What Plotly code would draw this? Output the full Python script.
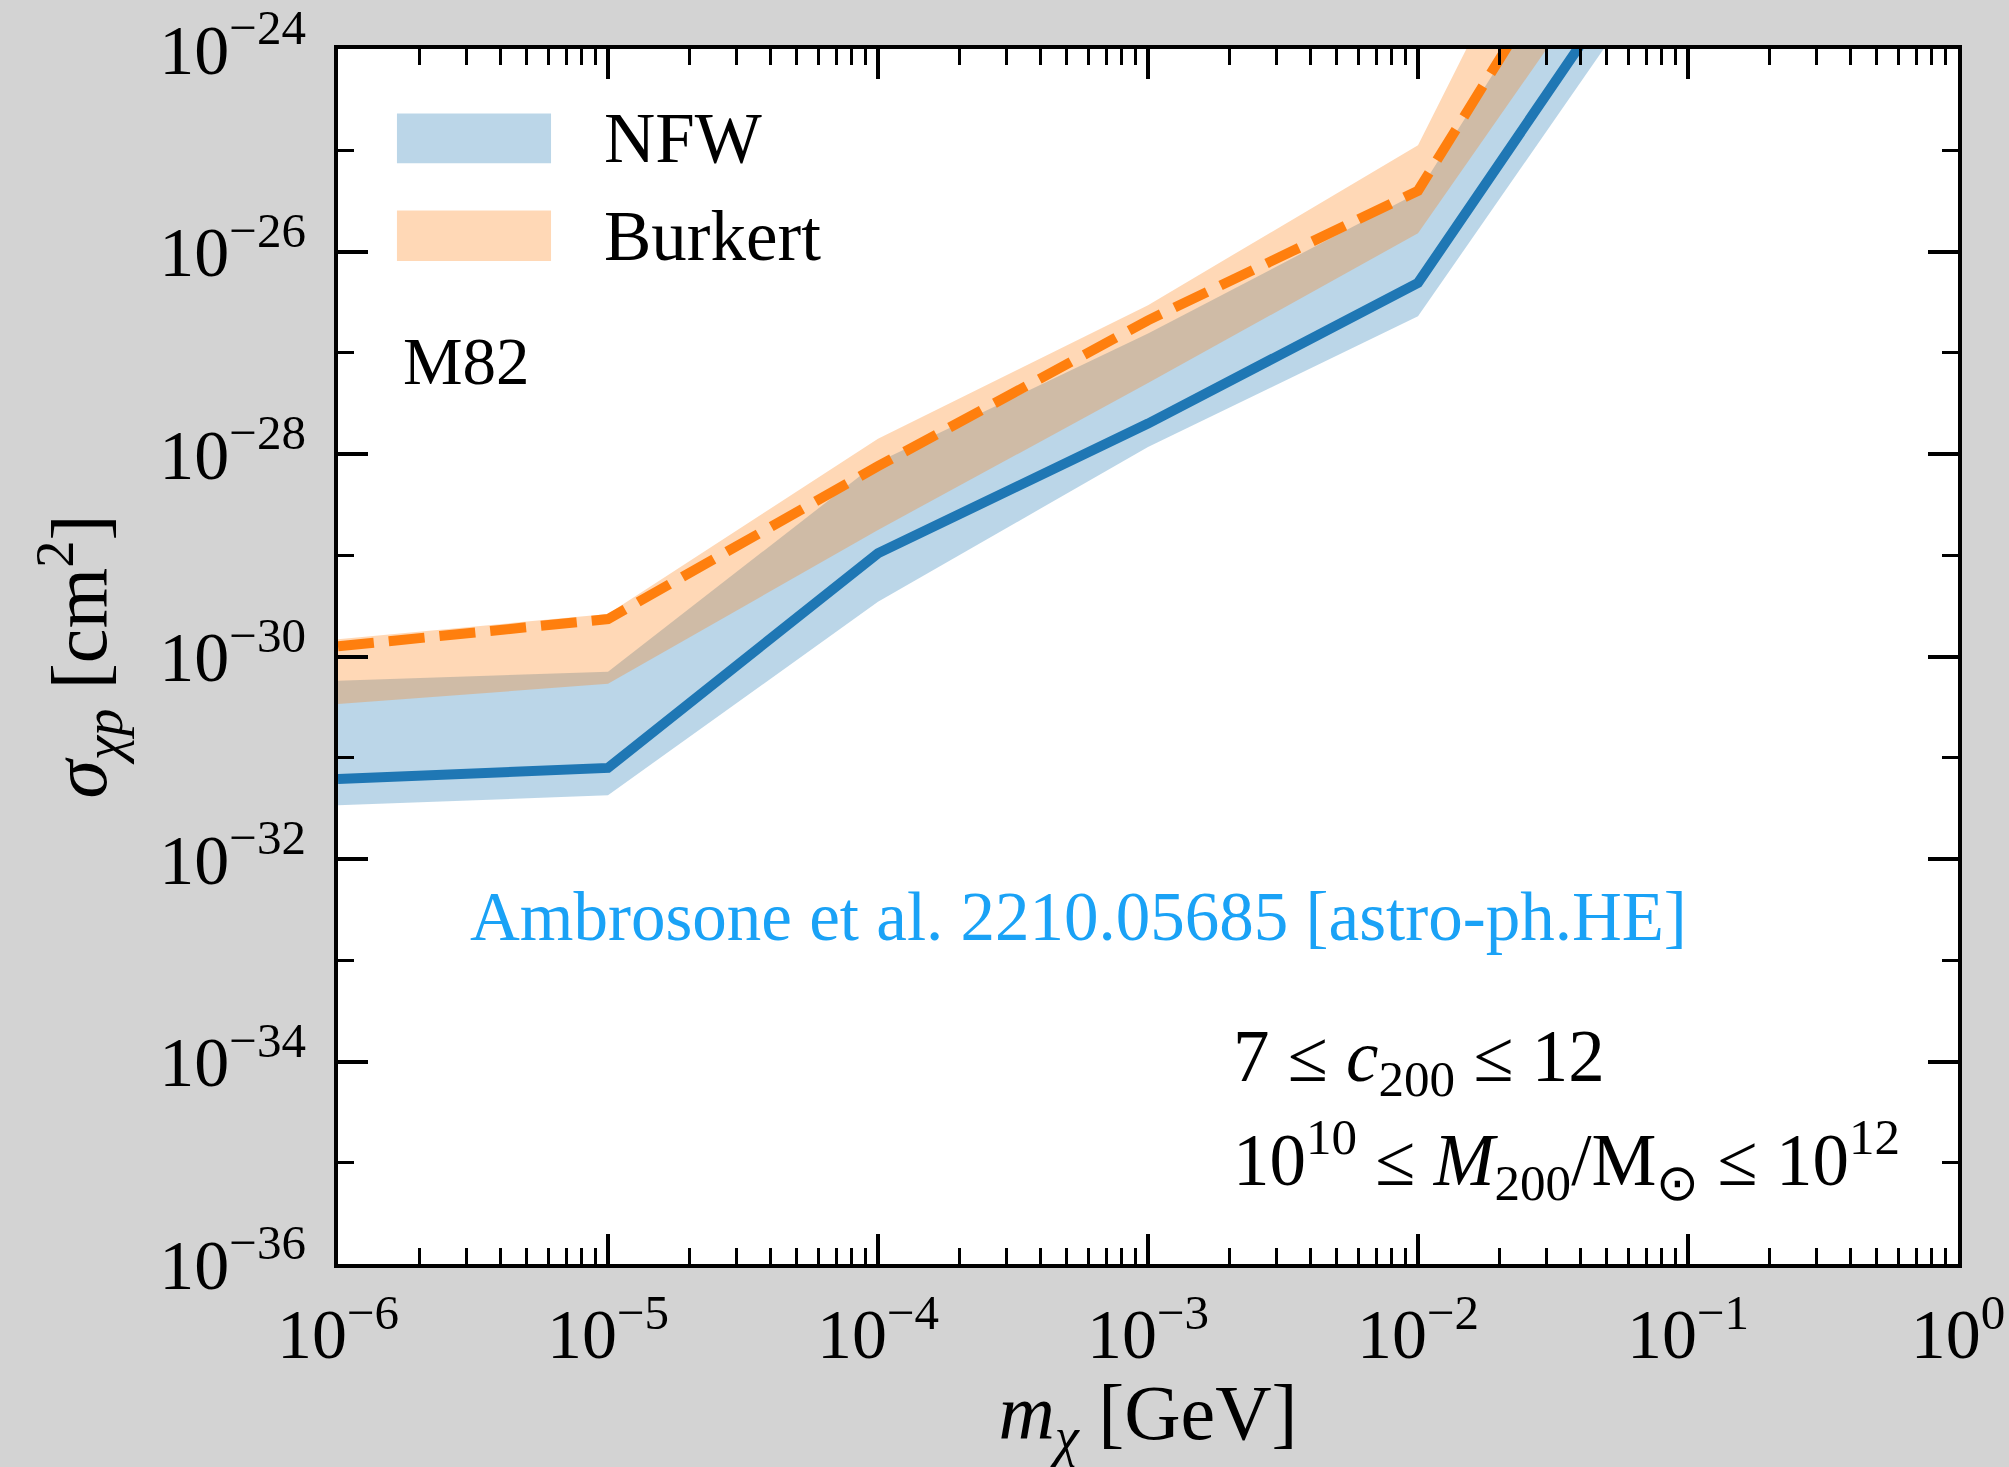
import plotly.graph_objects as go

# ---- data ----
m_chi = [1e-6, 1e-5, 1e-4, 1e-3, 1e-2, 1e-1]

nfw_line_exp = [-31.21, -31.10, -28.98, -27.70, -26.31, -22.4]
nfw_low_exp = [-31.47, -31.37, -29.46, -27.93, -26.64, -22.8]
nfw_high_exp = [-30.24, -30.15, -28.08, -26.81, -25.42, -21.2]

burk_line_exp = [-29.90, -29.63, -28.12, -26.68, -25.40, -21.1]
burk_low_exp = [-30.47, -30.27, -28.75, -27.30, -25.82, -22.0]
burk_high_exp = [-29.83, -29.58, -27.85, -26.53, -24.95, -19.65]

x_major_exp = [-6, -5, -4, -3, -2, -1, 0]
y_major_exp = [-24, -26, -28, -30, -32, -34, -36]
y_minor_exp = [-25, -27, -29, -31, -33, -35]

FONT = "Liberation Serif"
BLUE = "#1f77b4"
ORANGE = "#ff7f0e"
BLUE_BAND = "rgba(31,119,180,0.3)"
ORANGE_BAND = "rgba(255,127,14,0.3)"


def pw(e):
    return [10.0 ** v for v in e]


def sup_label(e):
    s = str(e).replace("-", "\u2212")
    return f"10<sup>{s}</sup>"


fig = go.Figure()

# NFW band
fig.add_trace(go.Scatter(x=m_chi, y=pw(nfw_low_exp), mode="lines",
                         line=dict(width=0, color=BLUE_BAND),
                         showlegend=False, hoverinfo="skip"))
fig.add_trace(go.Scatter(x=m_chi, y=pw(nfw_high_exp), mode="lines",
                         line=dict(width=0, color=BLUE_BAND),
                         fill="tonexty", fillcolor=BLUE_BAND,
                         name="NFW", showlegend=False))
# Burkert band
fig.add_trace(go.Scatter(x=m_chi, y=pw(burk_low_exp), mode="lines",
                         line=dict(width=0, color=ORANGE_BAND),
                         showlegend=False, hoverinfo="skip"))
fig.add_trace(go.Scatter(x=m_chi, y=pw(burk_high_exp), mode="lines",
                         line=dict(width=0, color=ORANGE_BAND),
                         fill="tonexty", fillcolor=ORANGE_BAND,
                         name="Burkert", showlegend=False))
# central lines
fig.add_trace(go.Scatter(x=m_chi, y=pw(nfw_line_exp), mode="lines",
                         line=dict(width=10, color=BLUE),
                         showlegend=False))
fig.add_trace(go.Scatter(x=m_chi, y=pw(burk_line_exp), mode="lines",
                         line=dict(width=10, color=ORANGE, dash="36px,15px"),
                         showlegend=False))

x_minor = []
for d in range(-6, 0):
    for k in range(2, 10):
        x_minor.append(k * 10.0 ** d)

tick_font = dict(family=FONT, size=70, color="black")

fig.update_xaxes(
    type="log", range=[-6, 0],
    tickmode="array", tickvals=pw(x_major_exp),
    ticktext=[sup_label(e) for e in x_major_exp],
    ticks="inside", ticklen=30, tickwidth=3.5, tickcolor="black",
    minor=dict(tickmode="array", tickvals=x_minor, ticks="inside",
               ticklen=16, tickwidth=3, tickcolor="black"),
    showline=True, linewidth=4, linecolor="black", mirror="allticks",
    showgrid=False, zeroline=False,
    tickfont=tick_font, ticklabelstandoff=6,
    title=dict(text="<i>m</i><sub><i>χ</i></sub> [GeV]",
               font=dict(family=FONT, size=78, color="black"), standoff=0),
)
fig.update_yaxes(
    type="log", range=[-36, -24],
    tickmode="array", tickvals=pw(y_major_exp),
    ticktext=[sup_label(e) for e in y_major_exp],
    ticks="inside", ticklen=30, tickwidth=3.5, tickcolor="black",
    minor=dict(tickmode="array", tickvals=pw(y_minor_exp), ticks="inside",
               ticklen=16, tickwidth=3, tickcolor="black"),
    showline=True, linewidth=4, linecolor="black", mirror="allticks",
    showgrid=False, zeroline=False,
    tickfont=tick_font, ticklabelstandoff=14,
    title=dict(text="<i>σ</i><sub><i>χp</i></sub> [cm<sup>2</sup>]",
               font=dict(family=FONT, size=78, color="black"), standoff=28),
)

# legend drawn as patches + labels
legend_items = [("NFW", BLUE_BAND, 0.947, 0.906), ("Burkert", ORANGE_BAND, 0.867, 0.8255)]
for label, col, y1, y0 in legend_items:
    fig.add_shape(type="rect", xref="paper", yref="paper",
                  x0=0.0364, x1=0.1315, y0=y0, y1=y1,
                  fillcolor=col, line=dict(width=0), layer="above")
    fig.add_annotation(xref="paper", yref="paper", x=0.163, y=(y0 + y1) / 2,
                       text=label, showarrow=False, xanchor="left", yanchor="middle",
                       font=dict(family=FONT, size=71, color="black"))

fig.add_annotation(xref="paper", yref="paper", x=0.039, y=0.743, text="M82",
                   showarrow=False, xanchor="left", yanchor="middle",
                   font=dict(family=FONT, size=67, color="black"))
fig.add_annotation(xref="paper", yref="paper", x=0.457, y=0.286,
                   text="Ambrosone et al. 2210.05685 [astro-ph.HE]",
                   showarrow=False, xanchor="center", yanchor="middle",
                   font=dict(family=FONT, size=69, color="#1aa2f6"))
fig.add_annotation(xref="paper", yref="paper", x=0.551, y=0.167,
                   text="7 ≤ <i>c</i><sub>200</sub> ≤ 12",
                   showarrow=False, xanchor="left", yanchor="middle",
                   font=dict(family=FONT, size=73, color="black"))
fig.add_annotation(xref="paper", yref="paper", x=0.551, y=0.086,
                   text="10<sup>10</sup> ≤ <i>M</i><sub>200</sub>/M<sub>⊙</sub> ≤ 10<sup>12</sup>",
                   showarrow=False, xanchor="left", yanchor="middle",
                   font=dict(family=FONT, size=73, color="black"))

fig.update_layout(
    width=2009, height=1467,
    margin=dict(l=338, r=51, t=49, b=203, autoexpand=False),
    paper_bgcolor="#d3d3d3", plot_bgcolor="white",
    showlegend=False,
)

fig.write_html("out.html")
